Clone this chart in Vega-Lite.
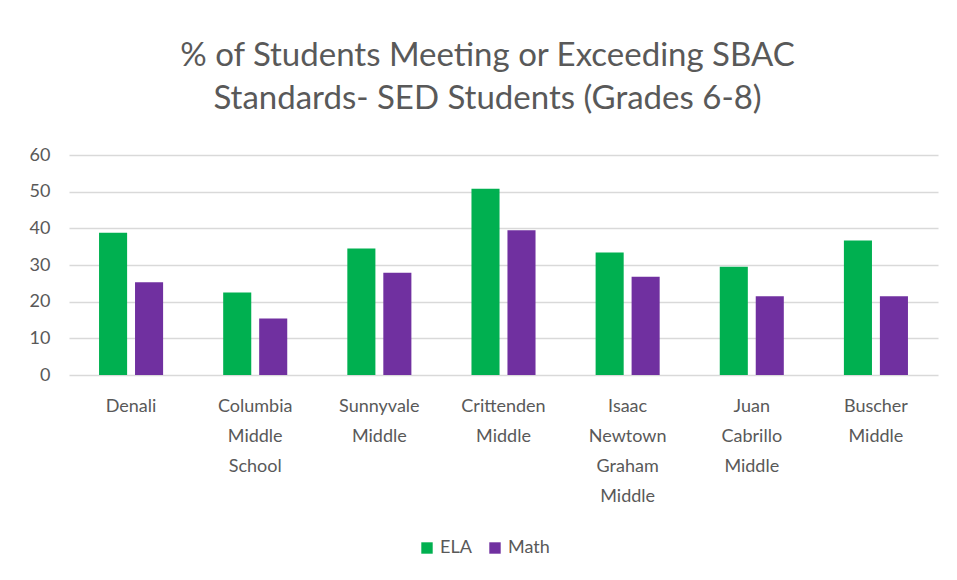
{
  "$schema": "https://vega.github.io/schema/vega-lite/v6.json",
  "autosize": "none",
  "width": 869,
  "height": 220,
  "padding": {"left": 69, "top": 155, "right": 19, "bottom": 205},
  "background": "white",
  "title": {
    "text": ["% of Students Meeting or Exceeding SBAC", "Standards- SED Students (Grades 6-8)"],
    "font": "Lato",
    "fontSize": 33,
    "fontWeight": "normal",
    "color": "#595959",
    "lineHeight": 43,
    "anchor": "middle",
    "baseline": "bottom",
    "offset": -3,
    "dx": -16
  },
  "data": {
    "values": [
      {"school": "Denali", "subject": "ELA", "pct": 38.8},
      {"school": "Denali", "subject": "Math", "pct": 25.3},
      {"school": "Columbia Middle School", "subject": "ELA", "pct": 22.5},
      {"school": "Columbia Middle School", "subject": "Math", "pct": 15.4},
      {"school": "Sunnyvale Middle", "subject": "ELA", "pct": 34.5},
      {"school": "Sunnyvale Middle", "subject": "Math", "pct": 27.9},
      {"school": "Crittenden Middle", "subject": "ELA", "pct": 50.8},
      {"school": "Crittenden Middle", "subject": "Math", "pct": 39.5},
      {"school": "Isaac Newtown Graham Middle", "subject": "ELA", "pct": 33.4},
      {"school": "Isaac Newtown Graham Middle", "subject": "Math", "pct": 26.8},
      {"school": "Juan Cabrillo Middle", "subject": "ELA", "pct": 29.5},
      {"school": "Juan Cabrillo Middle", "subject": "Math", "pct": 21.5},
      {"school": "Buscher Middle", "subject": "ELA", "pct": 36.7},
      {"school": "Buscher Middle", "subject": "Math", "pct": 21.5}
    ]
  },
  "mark": {"type": "bar"},
  "encoding": {
    "x": {
      "field": "school",
      "type": "nominal",
      "sort": null,
      "scale": {"paddingInner": 0.484, "paddingOuter": 0.242},
      "axis": {
        "title": null,
        "labelAngle": 0,
        "labelExpr": "split(datum.label, ' ')",
        "labelLineHeight": 30,
        "labelFont": "Lato",
        "labelFontSize": 18,
        "labelColor": "#595959",
        "labelPadding": 22,
        "ticks": false,
        "tickSize": 0,
        "domain": false,
        "grid": false
      }
    },
    "xOffset": {
      "field": "subject",
      "type": "nominal",
      "scale": {"paddingInner": 0.22, "paddingOuter": 0}
    },
    "y": {
      "field": "pct",
      "type": "quantitative",
      "scale": {"domain": [0, 60]},
      "axis": {
        "title": null,
        "values": [0, 10, 20, 30, 40, 50, 60],
        "labelFont": "Lato",
        "labelFontSize": 18,
        "labelColor": "#595959",
        "labelPadding": 19,
        "ticks": false,
        "tickSize": 0,
        "domain": false,
        "grid": true,
        "gridColor": "#d9d9d9",
        "gridWidth": 1.5
      }
    },
    "color": {
      "field": "subject",
      "type": "nominal",
      "scale": {"domain": ["ELA", "Math"], "range": ["#00B050", "#7030A0"]},
      "legend": {
        "title": null,
        "orient": "none",
        "legendX": 349,
        "legendY": 384,
        "direction": "horizontal",
        "symbolType": "square",
        "symbolSize": 130,
        "symbolStrokeWidth": 0,
        "labelFont": "Lato",
        "labelFontSize": 18,
        "labelColor": "#595959",
        "columnPadding": 14
      }
    }
  },
  "config": {
    "view": {"stroke": null}
  }
}
